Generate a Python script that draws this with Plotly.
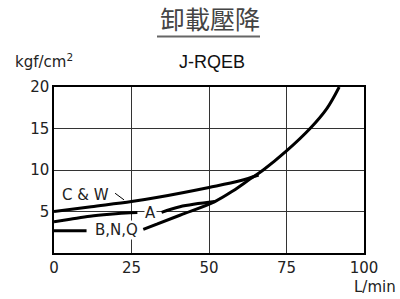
import plotly.graph_objects as go

# ---- data ----
x_ticks = [0, 25, 50, 75, 100]
x_tick_labels = ["0", "25", "50", "75", "100"]
y_ticks = [5, 10, 15, 20]
y_tick_labels = ["5", "10", "15", "20"]

cw_x = [0, 12, 25, 34, 50, 60, 66]
cw_y = [5.0, 5.58, 6.2, 6.75, 7.9, 8.7, 9.4]

a_x = [0, 5.2, 11.6, 18, 24.5, 26.9, None, 34.7, 40.6, 51.9]
a_y = [3.77, 4.06, 4.42, 4.66, 4.84, 4.87, None, 4.9, 5.58, 6.2]

bnq_x = [0, 10.5, None, 28.8, 40.6, 51.9, 57.8, 63.2, 67.5, 75, 82.6, 88, 92]
bnq_y = [2.69, 2.69, None, 2.85, 4.55, 6.2, 7.5, 8.9, 10.0, 12.3, 15.0, 17.4, 20.0]

leader_x = [19.7, 22.6]
leader_y = [7.2, 6.4]

label_cw = ("C & W", 10.0, 6.93)
label_a = ("A", 31.1, 4.82)
label_bnq = ("B,N,Q", 20.2, 2.77)

# ---- layout constants (page pixels) ----
W, H = 400, 299
PL, PR, PT, PB = 54, 364, 87, 253          # plot area in page pixels
L, R, T, B = PL, W - PR, PT, H - PB
PW, PH = PR - PL, PB - PT


def px(xp):
    return (xp - PL) / PW


def py(yp):
    return (PB - yp) / PH


fig = go.Figure()
line_style = dict(color="black", width=3)
for xs, ys in [(cw_x, cw_y), (a_x, a_y), (bnq_x, bnq_y)]:
    fig.add_trace(go.Scatter(x=xs, y=ys, mode="lines", line=dict(shape="spline", smoothing=1.0, **line_style),
                             connectgaps=False, hoverinfo="skip", showlegend=False))
fig.add_trace(go.Scatter(x=leader_x, y=leader_y, mode="lines", line=dict(color="black", width=1),
                         hoverinfo="skip", showlegend=False))

tick_font = dict(family="DejaVu Sans", size=15, color="#222")
for text, xv, yv in [label_cw, label_a, label_bnq]:
    fig.add_annotation(x=xv, y=yv, xref="x", yref="y", text=text, showarrow=False,
                       font=tick_font, bgcolor="white" if text != "C & W" else "rgba(0,0,0,0)",
                       borderpad=0)

# title & texts
fig.add_annotation(x=px(210), y=py(18), xref="paper", yref="paper", text="卸載壓降", showarrow=False,
                   font=dict(family="Noto Sans CJK TC", size=25, color="#444"), xanchor="center", yanchor="middle")
fig.add_shape(type="line", xref="paper", yref="paper", x0=px(157), x1=px(260), y0=py(36.5), y1=py(36.5),
              line=dict(color="#666", width=2))
fig.add_annotation(x=px(212), y=py(62), xref="paper", yref="paper", text="J-RQEB", showarrow=False,
                   font=dict(family="Liberation Sans", size=18, color="#111"), xanchor="center", yanchor="middle")
fig.add_annotation(x=px(44), y=py(61), xref="paper", yref="paper", text="kgf/cm<sup>2</sup>", showarrow=False,
                   font=dict(family="DejaVu Sans", size=15, color="#222"), xanchor="center", yanchor="middle")
fig.add_annotation(x=px(375), y=py(287), xref="paper", yref="paper", text="L/min", showarrow=False,
                   font=dict(family="DejaVu Sans", size=15, color="#222"), xanchor="center", yanchor="middle")

axis_common = dict(showgrid=True, gridcolor="#333", gridwidth=1, showline=True, linecolor="black",
                   linewidth=1.5, mirror=True, ticks="", zeroline=False, tickfont=tick_font, fixedrange=True)
fig.update_xaxes(range=[0, 100], tickvals=x_ticks, ticktext=x_tick_labels, **axis_common)
fig.update_yaxes(range=[0, 20], tickvals=y_ticks, ticktext=y_tick_labels, **axis_common)

fig.update_layout(width=W, height=H, margin=dict(l=L, r=R, t=T, b=B), plot_bgcolor="white",
                  paper_bgcolor="white", showlegend=False)

fig.write_html("out.html", config={"displayModeBar": False},
               post_script="document.body.style.margin='0px';document.body.style.overflow='hidden';")
